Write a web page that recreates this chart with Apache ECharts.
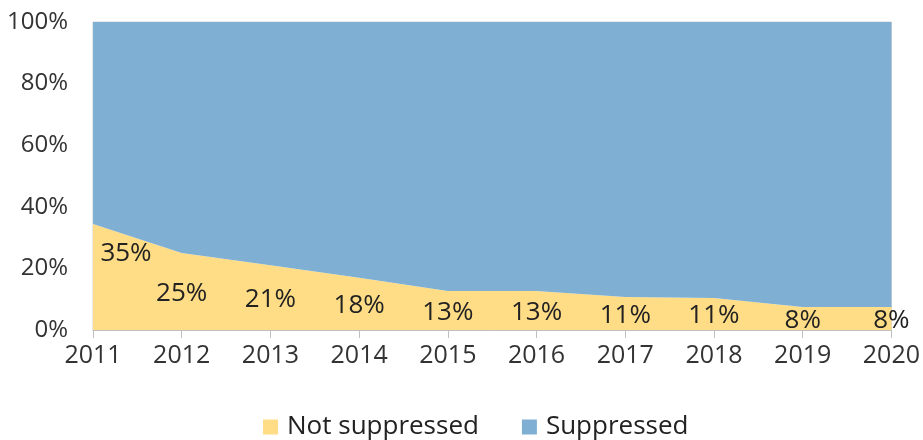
<!DOCTYPE html>
<html>
<head>
<meta charset="utf-8">
<script src="https://cdn.jsdelivr.net/npm/echarts@6/dist/echarts.min.js"></script>
<style>
  html, body { margin: 0; padding: 0; background: #fff; }
  #chart { width: 923px; height: 440px; }
</style>
</head>
<body>
<div id="chart"></div>
<script>
// years on the x axis
const years = ['2011', '2012', '2013', '2014', '2015', '2016', '2017', '2018', '2019', '2020'];
// share of each year, in percent
const notSuppressed = [34.4, 25, 21, 17, 12.7, 12.7, 10.7, 10.4, 7.5, 7.5];
const suppressed = [65.6, 75, 79, 83, 87.3, 87.3, 89.3, 89.6, 92.5, 92.5];
// printed labels on the yellow area
const labelText = [35, 25, 21, 18, 13, 13, 11, 11, 8, 8];
const yTicks = [0, 20, 40, 60, 80, 100];

const FONT = '"Open Sans", "Noto Sans", sans-serif';
const YELLOW = '#FFDD86';
const BLUE = '#7FAFD2';

const chart = echarts.init(document.getElementById('chart'));

// invisible helper: anchors each label half way down the yellow area
const labelAnchors = notSuppressed.map((v, i) => {
    const item = { value: v / 2 };
    if (i === 0) item.label = { offset: [33, -23] };
    return item;
});

chart.setOption({
    animation: false,
    textStyle: { fontFamily: FONT },
    grid: {
        left: 93, right: 28, top: 22, bottom: 110,
        show: true, borderColor: '#D0D0D0', borderWidth: 1,
    },
    legend: {
        top: 407,
        left: 258,
        itemWidth: 15,
        itemHeight: 15,
        itemGap: 43,
        icon: 'rect',
        data: ['Not suppressed', 'Suppressed'],
        textStyle: { fontFamily: FONT, fontSize: 26, color: '#222', lineHeight: 30, padding: [0, 0, 0, 4] },
    },
    xAxis: {
        type: 'category',
        data: years,
        boundaryGap: false,
        axisLine: { lineStyle: { color: '#BFBFBF', width: 1 } },
        axisTick: { length: 8, lineStyle: { color: '#BFBFBF' } },
        axisLabel: { fontFamily: FONT, fontSize: 25, color: '#333', margin: 13 },
    },
    yAxis: {
        type: 'value',
        min: 0, max: 100, interval: 20,
        axisLine: { show: false },
        axisTick: { show: false },
        splitLine: { show: false },
        axisLabel: {
            fontFamily: FONT, fontSize: 24, color: '#333', margin: 25,
            formatter: v => (yTicks.includes(v) ? v + '%' : ''),
        },
    },
    series: [
        {
            name: 'Not suppressed', type: 'line', stack: 'total',
            data: notSuppressed, symbol: 'none',
            lineStyle: { width: 0 },
            areaStyle: { color: YELLOW, opacity: 1 },
            itemStyle: { color: YELLOW },
        },
        {
            name: 'Suppressed', type: 'line', stack: 'total',
            data: suppressed, symbol: 'none',
            lineStyle: { width: 0 },
            areaStyle: { color: BLUE, opacity: 1 },
            itemStyle: { color: BLUE },
        },
        {
            name: 'labels', type: 'line',
            data: labelAnchors,
            symbol: 'circle', symbolSize: 1, showSymbol: true,
            itemStyle: { color: 'rgba(0,0,0,0)', borderWidth: 0 },
            lineStyle: { width: 0, color: 'rgba(0,0,0,0)' },
            silent: true,
            z: 5,
            label: {
                show: true,
                position: 'inside',
                offset: [0, 2],
                fontFamily: FONT, fontSize: 26, color: '#222',
                formatter: p => labelText[p.dataIndex] + '%',
            },
        },
    ],
});
</script>
</body>
</html>
